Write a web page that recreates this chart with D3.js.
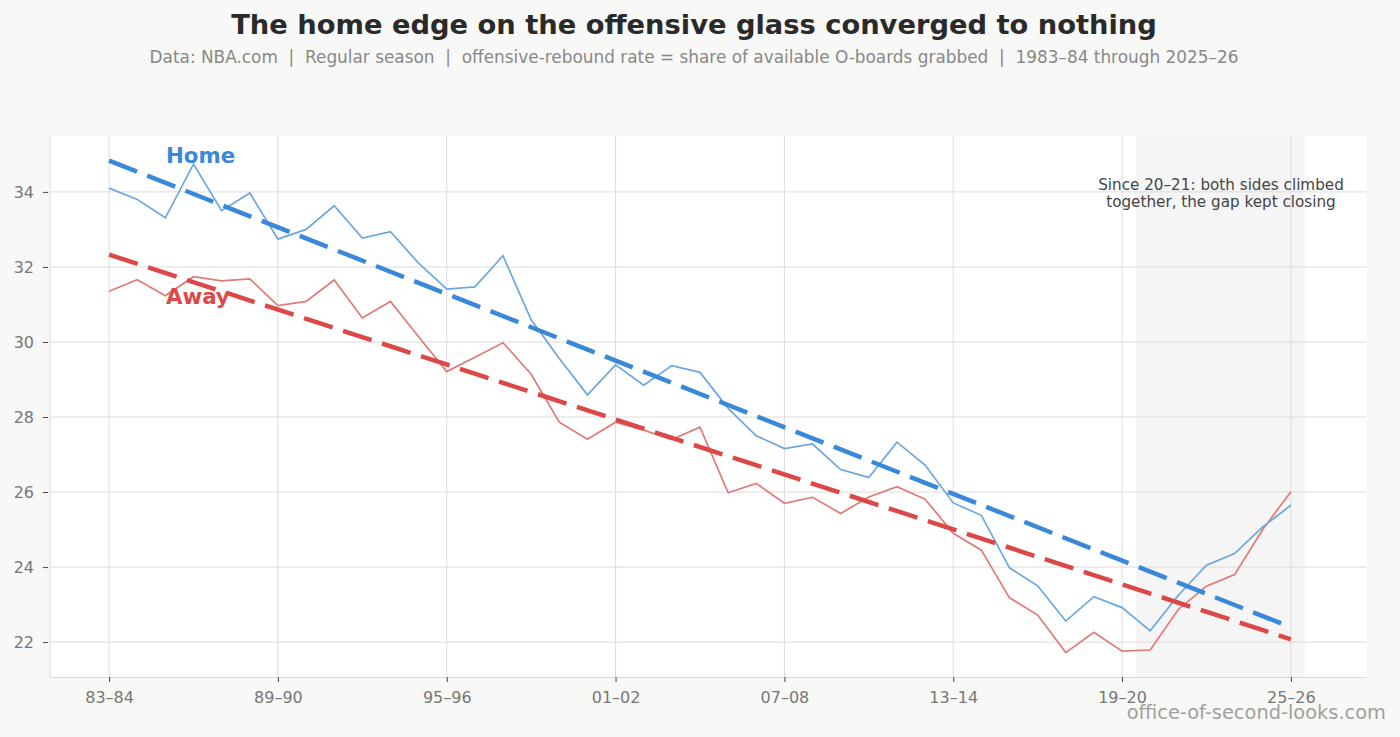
<!DOCTYPE html>
<html><head><meta charset="utf-8">
<script src="https://cdn.jsdelivr.net/npm/d3@7/dist/d3.min.js"></script>
<style>
html,body{margin:0;padding:0;background:#f8f8f6;}
svg{display:block;font-family:"DejaVu Sans",sans-serif;}
text{white-space:pre;}
</style></head><body>
<svg id="c" width="1400" height="737"></svg>
<script>
const seasons = ["83–84","84–85","85–86","86–87","87–88","88–89","89–90","90–91","91–92","92–93","93–94","94–95","95–96","96–97","97–98","98–99","99–00","00–01","01–02","02–03","03–04","04–05","05–06","06–07","07–08","08–09","09–10","10–11","11–12","12–13","13–14","14–15","15–16","16–17","17–18","18–19","19–20","20–21","21–22","22–23","23–24","24–25","25–26"];
const homeRate = [34.10,33.80,33.31,34.74,33.50,33.97,32.74,33.00,33.63,32.77,32.94,32.10,31.41,31.47,32.30,30.59,29.56,28.59,29.39,28.85,29.37,29.19,28.23,27.50,27.16,27.28,26.60,26.39,27.33,26.72,25.71,25.38,23.98,23.50,22.56,23.21,22.92,22.30,23.25,24.05,24.36,25.07,25.65];
const awayRate = [31.35,31.66,31.23,31.74,31.63,31.68,30.97,31.08,31.65,30.64,31.08,30.14,29.21,29.59,29.98,29.14,27.86,27.41,27.86,27.65,27.40,27.73,25.98,26.23,25.70,25.86,25.43,25.87,26.14,25.81,24.90,24.45,23.18,22.72,21.72,22.26,21.76,21.79,22.87,23.49,23.80,25.00,26.01];
const xTickLabels = ["83–84","89–90","95–96","01–02","07–08","13–14","19–20","25–26"];
const yTicks = [22,24,26,28,30,32,34];
const shadeFrom = "20–21", shadeTo = "25–26";

const svg = d3.select("#c");
const L = 50, R = 1366, T = 136, B = 677;
const x = d3.scaleLinear().domain([-2.1, 44.67]).range([L, R]);
const y = d3.scaleLinear().domain([21.07, 35.49]).range([B, T]);

svg.append("text").attr("x", 694).attr("y", 34).attr("text-anchor","middle")
  .attr("font-size", 27.3).attr("font-weight","bold").attr("fill","#2a2a2a")
  .text("The home edge on the offensive glass converged to nothing");
svg.append("text").attr("x", 694).attr("y", 63).attr("text-anchor","middle")
  .attr("font-size", 16.9).attr("fill","#888")
  .text("Data: NBA.com  |  Regular season  |  offensive-rebound rate = share of available O-boards grabbed  |  1983–84 through 2025–26");

svg.append("rect").attr("x", L).attr("y", T).attr("width", R-L).attr("height", B-T).attr("fill","#fff");

// shade
const i0 = seasons.indexOf(shadeFrom) - 0.5, i1 = seasons.indexOf(shadeTo) + 0.5;
svg.append("rect").attr("x", x(i0)).attr("y", T).attr("width", x(i1)-x(i0)).attr("height", B-T)
  .attr("fill","#eeeeee").attr("opacity",0.6);

// grid
const g = svg.append("g");
yTicks.forEach(t => g.append("line").attr("x1",L).attr("x2",R).attr("y1",y(t)).attr("y2",y(t)).attr("stroke","#dcdcdc").attr("stroke-width",1));
xTickLabels.forEach(s => { const i = seasons.indexOf(s);
  g.append("line").attr("x1",x(i)).attr("x2",x(i)).attr("y1",T).attr("y2",B).attr("stroke","#dcdcdc").attr("stroke-width",1); });

// axes
const xAxis = d3.axisBottom(x).tickValues(xTickLabels.map(s=>seasons.indexOf(s))).tickFormat(i=>seasons[i]).tickSize(5).tickSizeOuter(0).tickPadding(10);
const gx = svg.append("g").attr("transform",`translate(0,${B})`).call(xAxis);
gx.select(".domain").attr("stroke","#d8d8d8");
gx.selectAll(".tick line").attr("stroke","#444");
gx.selectAll("text").attr("font-size",16).attr("fill","#777").attr("font-family","DejaVu Sans");
const yAxis = d3.axisLeft(y).tickValues(yTicks).tickSize(5).tickSizeOuter(0).tickPadding(9);
const gy = svg.append("g").attr("transform",`translate(${L-2},0)`).call(yAxis);
gy.select(".domain").remove();
gy.selectAll(".tick line").attr("stroke","#444");
gy.selectAll("text").attr("font-size",16).attr("fill","#777").attr("font-family","DejaVu Sans");
svg.append("line").attr("x1",L).attr("x2",L).attr("y1",T).attr("y2",B).attr("stroke","#d8d8d8");

// lines
const line = d3.line().x((d,i)=>x(i)).y(d=>y(d));
svg.append("path").datum(awayRate).attr("d",line).attr("fill","none").attr("stroke","#e07a78").attr("stroke-width",1.7);
svg.append("path").datum(homeRate).attr("d",line).attr("fill","none").attr("stroke","#6aa7e0").attr("stroke-width",1.7);

function fit(arr){ const n=arr.length, xs=d3.range(n); const mx=d3.mean(xs), my=d3.mean(arr);
  let sxy=0,sxx=0; xs.forEach((xi,k)=>{sxy+=(xi-mx)*(arr[k]-my); sxx+=(xi-mx)*(xi-mx);});
  const b=sxy/sxx; return [[0,my+b*(0-mx)],[n-1,my+b*(n-1-mx)]]; }
const tl = d3.line().x(d=>x(d[0])).y(d=>y(d[1]));
svg.append("path").datum(fit(awayRate)).attr("d",tl).attr("fill","none").attr("stroke","#dc4848").attr("stroke-width",4.5).attr("stroke-dasharray","30,11");
svg.append("path").datum(fit(homeRate)).attr("d",tl).attr("fill","none").attr("stroke","#3a88d8").attr("stroke-width",4.5).attr("stroke-dasharray","30,11");

svg.append("text").attr("x",166).attr("y",163).attr("font-size",21.3).attr("font-weight","bold").attr("fill","#3a88d8").text("Home");
svg.append("text").attr("x",166).attr("y",304).attr("font-size",21.3).attr("font-weight","bold").attr("fill","#dc4848").text("Away");

const ann = svg.append("text").attr("text-anchor","middle").attr("font-size",15.2).attr("fill","#444");
ann.append("tspan").attr("x",1221).attr("y",190).text("Since 20–21: both sides climbed");
ann.append("tspan").attr("x",1221).attr("y",207).text("together, the gap kept closing");

svg.append("text").attr("x",1386).attr("y",719).attr("text-anchor","end").attr("font-size",19.4).attr("fill","#a0a0a0").text("office-of-second-looks.com");
</script></body></html>
